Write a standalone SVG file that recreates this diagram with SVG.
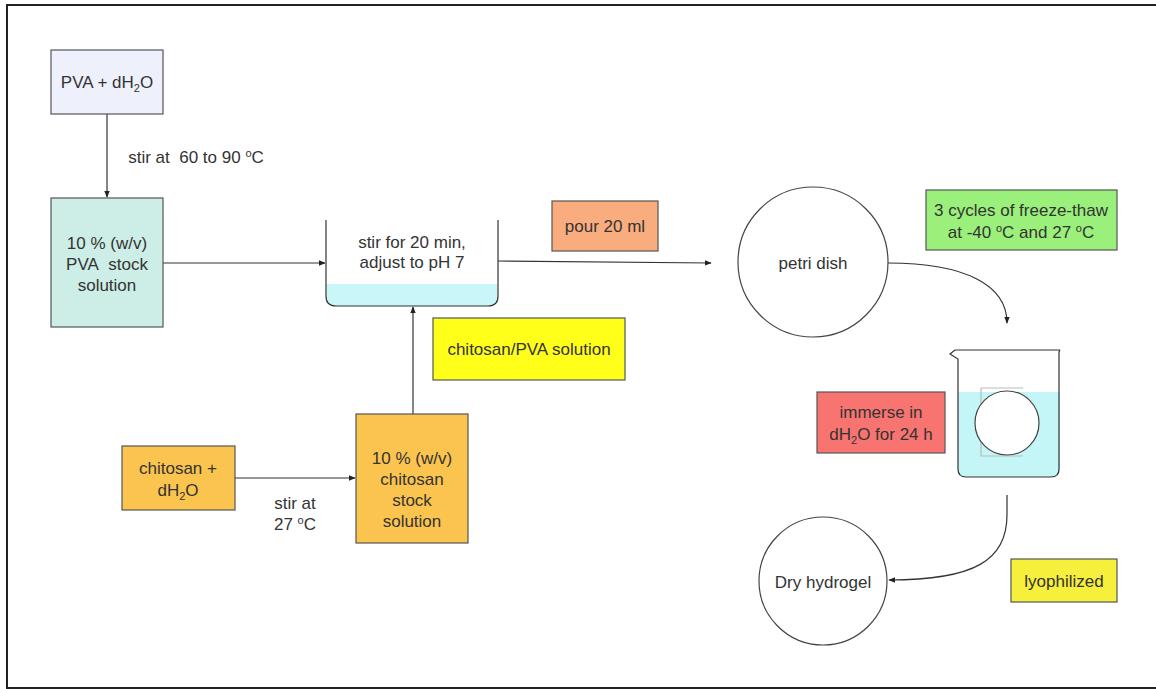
<svg xmlns="http://www.w3.org/2000/svg" width="1156" height="689" viewBox="0 0 1156 689">
<defs>
<marker id="ah" viewBox="0 0 10 10" refX="9" refY="5" markerWidth="7" markerHeight="7" orient="auto" markerUnits="userSpaceOnUse">
<path d="M0,1 L10,5 L0,9 z" fill="#222"/>
</marker>
<style>
text{font-family:"Liberation Sans",Arial,sans-serif;font-size:17px;fill:#333;text-anchor:middle}
.box{stroke:#555;stroke-width:1.2}
.ln{stroke:#333;stroke-width:1.2;fill:none}
.circ{fill:#fff;stroke:#444;stroke-width:1.2}
</style>
</defs>
<rect x="0" y="0" width="1156" height="689" fill="#fff"/>
<rect x="7" y="5" width="1160" height="683" fill="none" stroke="#222" stroke-width="2"/>

<g id="connectors">
<line class="ln" x1="107" y1="114" x2="107" y2="197" marker-end="url(#ah)"/>
<line class="ln" x1="163" y1="263" x2="325" y2="263" marker-end="url(#ah)"/>
<line class="ln" x1="498" y1="261" x2="711" y2="263" marker-end="url(#ah)"/>
<line class="ln" x1="413" y1="414" x2="413" y2="307" marker-end="url(#ah)"/>
<line class="ln" x1="235" y1="478" x2="355" y2="478" marker-end="url(#ah)"/>
<path class="ln" d="M888,263 C965,263 1007,285 1007,323" marker-end="url(#ah)"/>
<path class="ln" d="M1007,495 L1007,515 C1007,560 975,580 889,580" marker-end="url(#ah)"/>
<text x="196" y="163">stir at&#160; 60 to 90 <tspan dy="-6" font-size="11">o</tspan><tspan dy="6">C</tspan></text>
<text x="295" y="509">stir at</text>
<text x="295" y="530">27 <tspan dy="-6" font-size="11">o</tspan><tspan dy="6">C</tspan></text>
</g>

<g id="pva">
<rect class="box" x="51" y="50" width="112" height="64" fill="#eef0fc"/>
<text x="107" y="88">PVA + dH<tspan font-size="11" dy="4">2</tspan><tspan dy="-4">O</tspan></text>
</g>

<g id="pva-stock">
<rect class="box" x="51" y="198" width="112" height="129" fill="#cdeee6"/>
<text x="107" y="249">10 % (w/v)</text>
<text x="107" y="270">PVA&#160; stock</text>
<text x="107" y="291">solution</text>
</g>

<g id="beaker1">
<path d="M327,284 L497,284 L497,296 Q497,306 487,306 L337,306 Q327,306 327,296 z" fill="#c9f6f8"/>
<path class="ln" d="M326,220 L326,296 Q326,306 336,306 L488,306 Q498,306 498,296 L498,220" stroke="#444"/>
<text x="412" y="248">stir for 20 min,</text>
<text x="412" y="268">adjust to pH 7</text>
</g>

<g id="pour">
<rect class="box" x="552" y="201" width="106" height="50" fill="#f9ac7e"/>
<text x="605" y="232">pour 20 ml</text>
</g>

<g id="chitosan-pva">
<rect class="box" x="433" y="318" width="192" height="62" fill="#ffff1a"/>
<text x="529" y="355">chitosan/PVA solution</text>
</g>

<g id="chitosan">
<rect class="box" x="122" y="446" width="113" height="64" fill="#fbc44e"/>
<text x="178" y="474">chitosan +</text>
<text x="178" y="496">dH<tspan font-size="11" dy="4">2</tspan><tspan dy="-4">O</tspan></text>
</g>

<g id="chitosan-stock">
<rect class="box" x="356" y="414" width="112" height="129" fill="#fbc44e"/>
<text x="412" y="464">10 % (w/v)</text>
<text x="412" y="485">chitosan</text>
<text x="412" y="506">stock</text>
<text x="412" y="527">solution</text>
</g>

<g id="petri">
<circle class="circ" cx="813" cy="262" r="75"/>
<text x="813" y="269">petri dish</text>
</g>

<g id="freeze">
<rect class="box" x="926" y="190" width="191" height="60" fill="#9af07a"/>
<text x="1021" y="216">3 cycles of freeze-thaw</text>
<text x="1021" y="238">at -40 <tspan dy="-6" font-size="11">o</tspan><tspan dy="6">C and 27 </tspan><tspan dy="-6" font-size="11">o</tspan><tspan dy="6">C</tspan></text>
</g>

<g id="beaker2">
<path d="M958,392 L1060,392 L1060,469 Q1060,477 1052,477 L966,477 Q958,477 958,469 z" fill="#c4f5f7"/>
<path d="M981,388 L1023,388 M981,388 L981,456 L1023,456" stroke="#bbb" stroke-width="1.2" fill="none"/>
<circle class="circ" cx="1007" cy="423" r="32"/>
<path class="ln" d="M1060,350 L1059,352 L1059,469 Q1059,477 1051,477 L966,477 Q958,477 958,469 L958,359 L950,354 L955,350 L1060,350" stroke="#555"/>
</g>

<g id="immerse">
<rect class="box" x="817" y="392" width="128" height="61" fill="#f87471"/>
<text x="881" y="418">immerse in</text>
<text x="881" y="440">dH<tspan font-size="11" dy="4">2</tspan><tspan dy="-4">O for 24 h</tspan></text>
</g>

<g id="dry">
<circle class="circ" cx="823" cy="581" r="64"/>
<text x="823" y="588">Dry hydrogel</text>
</g>

<g id="lyophilized">
<rect class="box" x="1011" y="559" width="106" height="43" fill="#f6ef3c"/>
<text x="1064" y="587">lyophilized</text>
</g>
</svg>
